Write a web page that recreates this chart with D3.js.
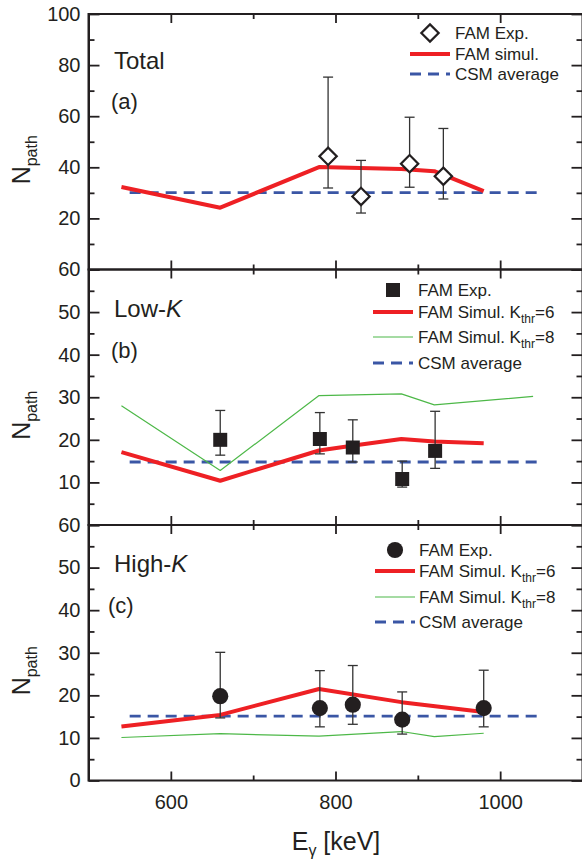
<!DOCTYPE html>
<html>
<head>
<meta charset="utf-8">
<script src="https://cdn.jsdelivr.net/npm/d3@7"></script>
<style>
  body { margin: 0; background: #fff; }
  svg text { font-family: "Liberation Sans", Arial, Helvetica, sans-serif; fill: #231f20; }
</style>
</head>
<body>
<div id="chart"></div>
<script>
// ---- data ----
// x axis (E_gamma, keV)
const xDomain = [500, 1100];
const xMajorTicks = [600, 800, 1000];
const xMinorTicks = [700, 900];

// csm average lines (flat), same x span in every panel
const csmX = [550, 1050];
const csmTotal = 30.1;
const csmLow = 14.8;
const csmHigh = 15.1;

// (a) Total
const expEnergyA = [791, 831, 890, 931];
const expValA = [44.3, 28.6, 41.4, 36.5];
const expHiA = [75.3, 42.7, 59.6, 55.2];
const expLoA = [31.9, 22.1, 32.2, 27.6];
const simEnergyA = [540, 660, 780, 880, 920, 980];
const simValA = [32.3, 24.2, 40.1, 39.3, 38.5, 30.7];

// (b) Low-K
const expEnergyB = [660, 781, 821, 881, 921];
const expValB = [20.0, 20.2, 18.2, 10.8, 17.4];
const expHiB = [26.9, 26.4, 24.7, 15.0, 26.7];
const expLoB = [16.4, 16.7, 14.8, 8.9, 13.3];
const sim6EnergyB = [540, 660, 780, 820, 880, 920, 980];
const sim6ValB = [17.1, 10.4, 17.5, 18.6, 20.2, 19.6, 19.2];
const sim8EnergyB = [540, 660, 780, 880, 920, 1040];
const sim8ValB = [28.0, 12.8, 30.4, 30.8, 28.2, 30.2];

// (c) High-K
const expEnergyC = [660, 781, 821, 881, 980];
const expValC = [19.8, 17.0, 17.8, 14.3, 17.0];
const expHiC = [30.1, 25.8, 27.0, 20.8, 25.9];
const expLoC = [14.7, 12.6, 13.2, 10.9, 12.6];
const sim6EnergyC = [540, 660, 780, 880, 980];
const sim6ValC = [12.7, 15.4, 21.5, 18.4, 16.1];
const sim8EnergyC = [540, 660, 780, 880, 920, 980];
const sim8ValC = [10.1, 11.0, 10.4, 11.5, 10.3, 11.1];

// ---- layout ----
const W = 582, H = 860;
const left = 88.5, right = 582.5;
const panelTop = [14, 269.5, 525];
const panelH = 255.5;
const RED = "#ee2024", GREEN = "#4db848", BLUE = "#3a56a5", INK = "#231f20";

const svg = d3.select("#chart").append("svg").attr("width", W).attr("height", H);
const x = d3.scaleLinear().domain(xDomain).range([left, right]);

const panels = [
  { name: "Total", tag: "(a)", yMax: 100, major: 20, minor: 10, hideZero: true, csm: csmTotal,
    exp: { e: expEnergyA, v: expValA, hi: expHiA, lo: expLoA, shape: "diamond" },
    sims: [{ e: simEnergyA, v: simValA, color: RED, w: 4 }],
    legend: { x: 430, rows: [33, 54, 74], lineX: [410, 450], textX: 455,
      labels: ["FAM Exp.", "FAM simul.", "CSM average"] } },
  { name: "Low-", tag: "(b)", yMax: 60, major: 10, minor: 5, hideZero: true, csm: csmLow,
    exp: { e: expEnergyB, v: expValB, hi: expHiB, lo: expLoB, shape: "square" },
    sims: [{ e: sim8EnergyB, v: sim8ValB, color: GREEN, w: 1.2 },
           { e: sim6EnergyB, v: sim6ValB, color: RED, w: 4 }],
    legend: { x: 393, rows: [290, 312, 337, 363], lineX: [373, 413], textX: 418, kthr: true } },
  { name: "High-", tag: "(c)", yMax: 60, major: 10, minor: 5, hideZero: false, csm: csmHigh,
    exp: { e: expEnergyC, v: expValC, hi: expHiC, lo: expLoC, shape: "circle" },
    sims: [{ e: sim8EnergyC, v: sim8ValC, color: GREEN, w: 1.2 },
           { e: sim6EnergyC, v: sim6ValC, color: RED, w: 4 }],
    legend: { x: 395, rows: [550, 571, 597, 622], lineX: [375, 415], textX: 419, kthr: true } }
];

function marker(g, shape, cx, cy) {
  if (shape === "diamond") {
    g.append("path")
      .attr("d", d3.symbol(d3.symbolSquare, 150)())
      .attr("transform", `translate(${cx},${cy}) rotate(45)`)
      .attr("fill", "#fff").attr("stroke", INK).attr("stroke-width", 2.2);
  } else if (shape === "square") {
    g.append("path")
      .attr("d", d3.symbol(d3.symbolSquare, 196)())
      .attr("transform", `translate(${cx},${cy})`)
      .attr("fill", INK);
  } else {
    g.append("path")
      .attr("d", d3.symbol(d3.symbolCircle, 205)())
      .attr("transform", `translate(${cx},${cy})`)
      .attr("fill", INK);
  }
}

panels.forEach((p, i) => {
  const top = panelTop[i], bottom = top + panelH;
  const y = d3.scaleLinear().domain([0, p.yMax]).range([bottom, top]);
  const g = svg.append("g");

  const majors = d3.range(0, p.yMax + 0.1, p.major);
  const minors = d3.range(p.minor, p.yMax, p.major);

  // left axis, ticks inward
  const yAxis = d3.axisLeft(y).tickValues(majors).tickSize(-11).tickSizeOuter(0).tickPadding(8)
    .tickFormat(d => (p.hideZero && d === 0) ? "" : d);
  const ga = g.append("g").attr("transform", `translate(${left},0)`).call(yAxis);
  ga.selectAll("text").style("font-size", "20px").attr("fill", INK);
  g.append("g").attr("transform", `translate(${left},0)`)
    .call(d3.axisLeft(y).tickValues(minors).tickSize(-6).tickFormat(""))
    .select(".domain").remove();
  // right axis
  g.append("g").attr("transform", `translate(${right},0)`)
    .call(d3.axisRight(y).tickValues(majors).tickSize(-11).tickFormat("")).select(".domain").remove();
  g.append("g").attr("transform", `translate(${right},0)`)
    .call(d3.axisRight(y).tickValues(minors).tickSize(-6).tickFormat("")).select(".domain").remove();
  // top & bottom axes
  g.append("g").attr("transform", `translate(0,${top})`)
    .call(d3.axisTop(x).tickValues(xMajorTicks).tickSize(-9).tickFormat("")).select(".domain").remove();
  g.append("g").attr("transform", `translate(0,${top})`)
    .call(d3.axisTop(x).tickValues(xMinorTicks).tickSize(-5).tickFormat("")).select(".domain").remove();
  const xb = g.append("g").attr("transform", `translate(0,${bottom})`)
    .call(d3.axisBottom(x).tickValues(xMajorTicks).tickSize(-9).tickPadding(14)
      .tickFormat(i === 2 ? d3.format("d") : ""));
  xb.select(".domain").remove();
  xb.selectAll("text").style("font-size", "20px").attr("fill", INK);
  g.append("g").attr("transform", `translate(0,${bottom})`)
    .call(d3.axisBottom(x).tickValues(xMinorTicks).tickSize(-5).tickFormat("")).select(".domain").remove();
  g.selectAll(".tick line").attr("stroke", INK).attr("stroke-width", 1.8);
  g.selectAll(".domain").attr("stroke", INK).attr("stroke-width", 2);

  // frame
  g.append("rect").attr("x", left).attr("y", top).attr("width", right - left).attr("height", panelH)
    .attr("fill", "none").attr("stroke", INK).attr("stroke-width", 2);

  // y label
  const yl = g.append("text")
    .attr("transform", `translate(30,${(top + bottom) / 2 + 18}) rotate(-90)`)
    .attr("text-anchor", "middle").style("font-size", "25px");
  yl.append("tspan").text("N");
  yl.append("tspan").attr("dy", 7).style("font-size", "16px").text("path");

  // panel titles
  const t = g.append("text").attr("x", 114).attr("y", top + (i === 0 ? 55 : 47)).style("font-size", "24px");
  t.append("tspan").text(p.name);
  if (i > 0) t.append("tspan").style("font-style", "italic").text("K");
  g.append("text").attr("x", i === 2 ? 108 : 111).attr("y", top + (i === 0 ? 95 : 88))
    .style("font-size", "22px").text(p.tag);

  // csm line
  const line = d3.line().x(d => x(d[0])).y(d => y(d[1]));
  g.append("path").attr("d", line(csmX.map(e => [e, p.csm])))
    .attr("fill", "none").attr("stroke", BLUE).attr("stroke-width", 2.8).attr("stroke-dasharray", "11,7");

  // simulations
  p.sims.forEach(s => {
    g.append("path").attr("d", line(s.e.map((e, k) => [e, s.v[k]])))
      .attr("fill", "none").attr("stroke", s.color).attr("stroke-width", s.w).attr("stroke-linejoin", "round");
  });

  // experiment with error bars
  const ex = p.exp;
  ex.e.forEach((e, k) => {
    const cx = x(e);
    g.append("line").attr("x1", cx).attr("x2", cx).attr("y1", y(ex.hi[k])).attr("y2", y(ex.lo[k]))
      .attr("stroke", "#333").attr("stroke-width", 1.3);
    [ex.hi[k], ex.lo[k]].forEach(v => {
      g.append("line").attr("x1", cx - 5).attr("x2", cx + 5).attr("y1", y(v)).attr("y2", y(v))
        .attr("stroke", "#333").attr("stroke-width", 1.3);
    });
    marker(g, ex.shape, cx, y(ex.v[k]));
  });

  // legend
  const L = p.legend;
  const lg = g.append("g");
  marker(lg, ex.shape, L.x, L.rows[0]);
  const addText = (row, parts) => {
    const tx = lg.append("text").attr("x", L.textX).attr("y", L.rows[row] + 6).style("font-size", "17px");
    parts.forEach(pt => {
      const ts = tx.append("tspan").text(pt.t);
      if (pt.sub) ts.attr("dy", 5).style("font-size", "12px");
      if (pt.up) ts.attr("dy", -5);
    });
  };
  const lineRow = (row, color, w, dash) => {
    lg.append("line").attr("x1", L.lineX[0]).attr("x2", L.lineX[1])
      .attr("y1", L.rows[row]).attr("y2", L.rows[row])
      .attr("stroke", color).attr("stroke-width", w).attr("stroke-dasharray", dash || null);
  };
  addText(0, [{ t: "FAM Exp." }]);
  if (L.kthr) {
    lineRow(1, RED, 4);
    lineRow(2, GREEN, 1.2);
    lineRow(3, BLUE, 2.8, "11,7");
    addText(1, [{ t: "FAM Simul. K" }, { t: "thr", sub: true }, { t: "=6", up: true }]);
    addText(2, [{ t: "FAM Simul. K" }, { t: "thr", sub: true }, { t: "=8", up: true }]);
    addText(3, [{ t: "CSM average" }]);
  } else {
    lineRow(1, RED, 4);
    lineRow(2, BLUE, 2.8, "11,7");
    addText(1, [{ t: L.labels[1] }]);
    addText(2, [{ t: L.labels[2] }]);
  }
});

// x label
const xl = svg.append("text").attr("x", 336).attr("y", 850).attr("text-anchor", "middle").style("font-size", "25px");
xl.append("tspan").text("E");
xl.append("tspan").attr("dy", 6).style("font-size", "16px").text("γ");
xl.append("tspan").attr("dy", -6).text(" [keV]");
</script>
</body>
</html>
